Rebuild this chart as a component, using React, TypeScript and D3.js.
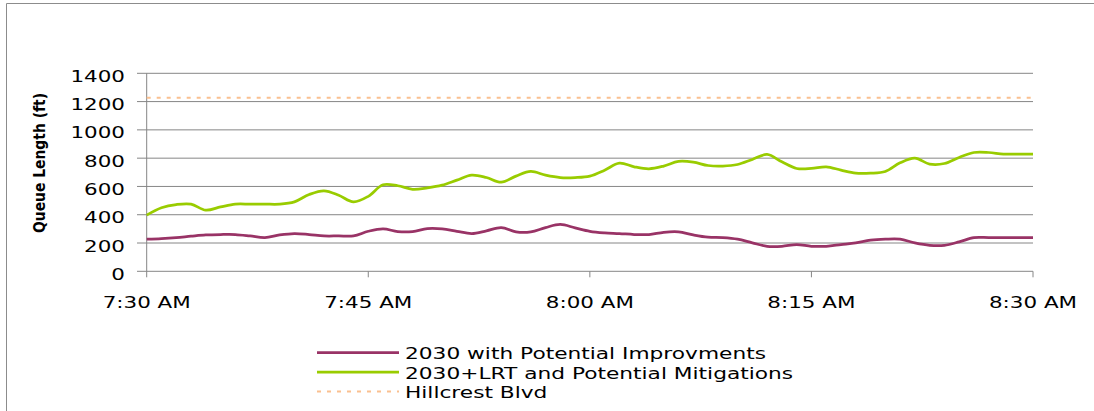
import React, { useEffect } from "react";
import * as d3 from "d3";

const minutes = d3.range(0, 61);
const xTickMinutes = [0, 15, 30, 45, 60];
const xTickLabels = ["7:30 AM", "7:45 AM", "8:00 AM", "8:15 AM", "8:30 AM"];
const yTicks = [0, 200, 400, 600, 800, 1000, 1200, 1400];

const improvements = [
  227, 231, 238, 248, 257, 260, 260, 250, 238, 257, 267, 260, 250, 250, 250, 283,
  300, 281, 281, 302, 300, 283, 267, 286, 309, 279, 279, 309, 331, 307, 283, 272,
  267, 260, 260, 276, 279, 257, 241, 238, 227, 201, 177, 177, 189, 177, 177, 189,
  201, 220, 227, 227, 201, 184, 184, 208, 238, 238, 238, 238, 238,
];
const lrtMitigations = [
  397, 449, 472, 475, 432, 455, 475, 475, 475, 475, 491, 543, 569, 538, 491, 530,
  612, 605, 580, 590, 609, 645, 680, 663, 630, 673, 706, 680, 663, 663, 673, 715,
  765, 739, 725, 744, 777, 772, 748, 744, 755, 791, 826, 774, 727, 727, 739, 715,
  694, 694, 706, 767, 800, 758, 762, 805, 840, 840, 829, 829, 829,
];
const hillcrest = 1228;

const seriesNames = [
  "2030 with Potential Improvments",
  "2030+LRT and Potential Mitigations",
  "Hillcrest Blvd",
];

const W = 1094;
const H = 411;
const FONT = "'DejaVu Sans', Verdana, sans-serif";
const SX = 1.3;

function SText({ x, y, anchor, children, size = 16.5 }: any) {
  return (
    <g transform={`translate(${x},${y}) scale(${SX},1)`}>
      <text x={0} y={0} textAnchor={anchor} fontFamily={FONT} fontSize={size} fill="#000">
        {children}
      </text>
    </g>
  );
}

export default function App() {
  useEffect(() => {
    document.body.style.margin = "0";
  }, []);

  const x = d3.scaleLinear().domain([0, 60]).range([146.7, 1033]);
  const y = d3.scaleLinear().domain([0, 1400]).range([271.3, 73.3]);

  const line = d3
    .line<number>()
    .x((_, i) => x(minutes[i]))
    .y((d) => y(d))
    .curve(d3.curveCatmullRom.alpha(0.5));

  const purple = "#993366";
  const green = "#99CC00";
  const orange = "#FAC090";
  const grid = "#868686";

  return (
    <svg width={W} height={H} style={{ display: "block" }}>
      <rect x={0} y={0} width={W} height={H} fill="#fff" />
      {/* outer frame */}
      <line x1={6.5} x2={6.5} y1={3.5} y2={H} stroke="#8c8c8c" strokeWidth={1} />
      <line x1={6.5} x2={W} y1={3.5} y2={3.5} stroke="#8c8c8c" strokeWidth={1} />

      {/* gridlines and y ticks */}
      {yTicks.map((t) => (
        <g key={t}>
          <line x1={137} x2={x(60)} y1={y(t)} y2={y(t)} stroke={grid} strokeWidth={1} />
          <SText x={125} y={y(t) + 8.5} anchor="end">
            {t}
          </SText>
        </g>
      ))}
      {/* y axis */}
      <line x1={x(0)} x2={x(0)} y1={y(1400)} y2={y(0)} stroke={grid} strokeWidth={1} />
      {/* x ticks */}
      {xTickMinutes.map((m, i) => (
        <g key={m}>
          <line x1={x(m)} x2={x(m)} y1={y(0)} y2={y(0) + 6} stroke={grid} strokeWidth={1} />
          <SText x={x(m)} y={307.5} anchor="middle">
            {xTickLabels[i]}
          </SText>
        </g>
      ))}

      {/* y axis title */}
      <text
        transform={`translate(45,163) rotate(-90)`}
        textAnchor="middle"
        fontFamily={FONT}
        fontWeight="bold"
        fontSize={16.5}
        textLength={140}
        lengthAdjust="spacingAndGlyphs"
        fill="#000"
      >
        Queue Length (ft)
      </text>

      {/* Hillcrest Blvd reference */}
      <line
        x1={x(0)}
        x2={x(60)}
        y1={y(hillcrest)}
        y2={y(hillcrest)}
        stroke={orange}
        strokeWidth={2}
        strokeDasharray="4,6"
      />
      {/* series */}
      <path d={line(lrtMitigations) || ""} fill="none" stroke={green} strokeWidth={2.75} />
      <path d={line(improvements) || ""} fill="none" stroke={purple} strokeWidth={2.75} />

      {/* legend */}
      {[purple, green, orange].map((c, i) => (
        <g key={i}>
          <line
            x1={317}
            x2={399}
            y1={352.5 + i * 19.5}
            y2={352.5 + i * 19.5}
            stroke={c}
            strokeWidth={i === 2 ? 2 : 2.75}
            strokeDasharray={i === 2 ? "4,6" : undefined}
          />
          <SText x={405} y={359 + i * 19.5} anchor="start" size={16.7}>
            {seriesNames[i]}
          </SText>
        </g>
      ))}
    </svg>
  );
}
